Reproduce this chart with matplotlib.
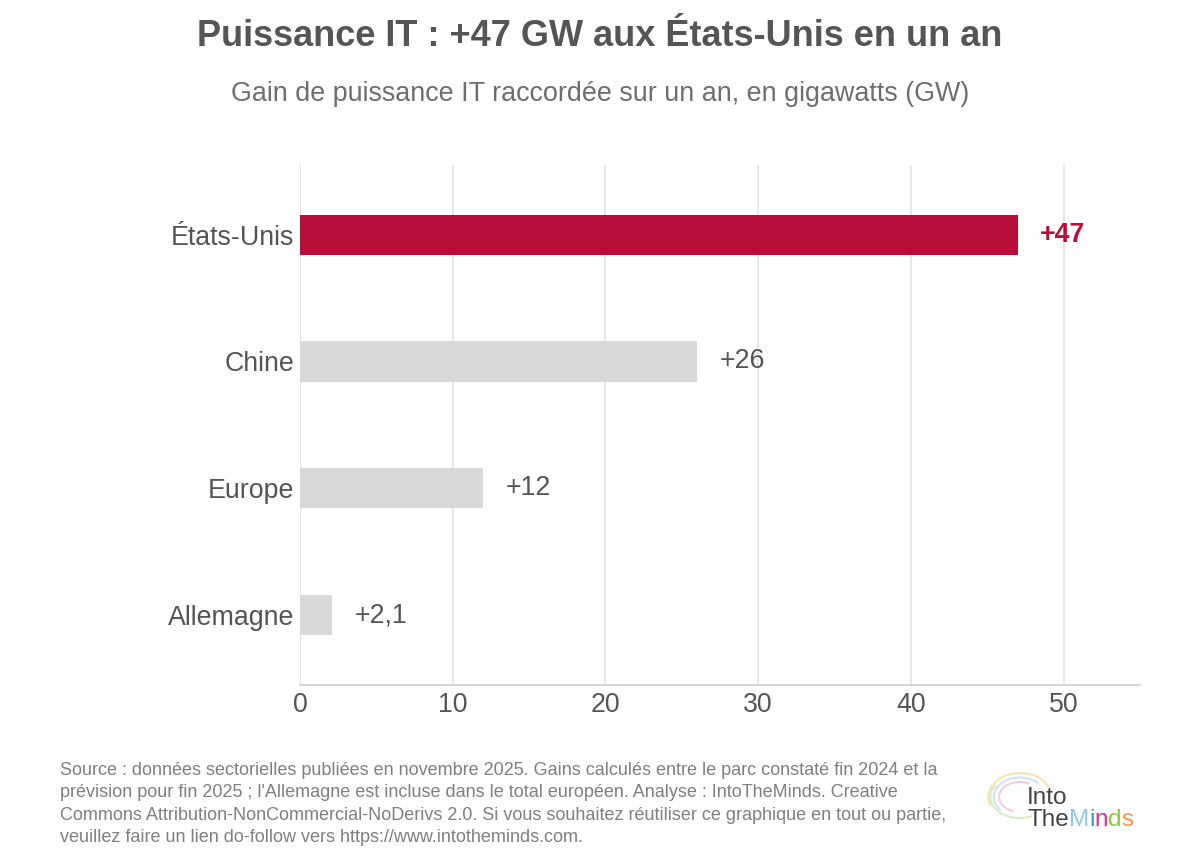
import matplotlib
matplotlib.use("Agg")
import matplotlib.pyplot as plt
from matplotlib.patches import Arc

plt.rcParams['font.family'] = ['Liberation Sans', 'DejaVu Sans']

categories = ["États-Unis", "Chine", "Europe", "Allemagne"]
values = [47, 26, 12, 2.1]
value_labels = ["+47", "+26", "+12", "+2,1"]
xticks = [0, 10, 20, 30, 40, 50]

title = "Puissance IT : +47 GW aux États-Unis en un an"
subtitle = "Gain de puissance IT raccordée sur un an, en gigawatts (GW)"
footer = ("Source : données sectorielles publiées en novembre 2025. Gains calculés entre le parc constaté fin 2024 et la\n"
          "prévision pour fin 2025 ; l'Allemagne est incluse dans le total européen. Analyse : IntoTheMinds. Creative\n"
          "Commons Attribution-NonCommercial-NoDerivs 2.0. Si vous souhaitez réutiliser ce graphique en tout ou partie,\n"
          "veuillez faire un lien do-follow vers https://www.intotheminds.com.")

RED = "#B80F3A"
GREY = "#D9D9D9"
TXT = "#555555"
FS = 19.3

fig = plt.figure(figsize=(12, 8.67), dpi=100)
ax = fig.add_axes([0.25, 0.2099, 0.70, 0.60])

ypos = list(range(len(categories)))
colors = [RED] + [GREY] * (len(categories) - 1)
ax.barh(ypos, values, height=0.316, color=colors, zorder=3)
ax.set_ylim(len(categories) - 0.45, -0.55)
ax.set_xlim(0, 55)
ax.set_yticks(ypos)
ax.set_yticklabels(categories, fontsize=FS, color=TXT)
ax.set_xticks(xticks)
ax.set_xticklabels([str(t) for t in xticks], fontsize=FS, color=TXT)
ax.tick_params(axis='both', length=0)
ax.tick_params(axis='y', pad=4)
ax.tick_params(axis='x', pad=5)
for s in ['top', 'right', 'left']:
    ax.spines[s].set_visible(False)
ax.spines['bottom'].set_color('#CCCCCC')
ax.spines['bottom'].set_linewidth(1.2)
ax.grid(axis='x', color='#E3E3E3', linewidth=1.2, zorder=0)
ax.axvline(0, color='#E3E3E3', linewidth=1.2, zorder=0)

for i, (v, lab) in enumerate(zip(values, value_labels)):
    if i == 0:
        ax.annotate(lab, (v, i), xytext=(16, 0), textcoords='offset points',
                    va='center', ha='left', fontsize=FS, color=RED, fontweight='bold')
    else:
        ax.annotate(lab, (v, i), xytext=(16, 0), textcoords='offset points',
                    va='center', ha='left', fontsize=FS, color=TXT)

fig.text(0.5, 1 - 37 / 867, title, ha='center', va='center', fontsize=26,
         fontweight='bold', color=TXT)
fig.text(0.5, 1 - 94 / 867, subtitle, ha='center', va='center', fontsize=19.4,
         color='#6E6E6E')
fig.text(60 / 1200, 1 - 762 / 867, footer, ha='left', va='top', fontsize=13,
         color='#808080', linespacing=1.42)

# logo
lx, ly = 1027 / 1200, 1 - 804 / 867
fig.text(lx, ly, "Into", ha='left', va='baseline', fontsize=17.5, color='#444444')
ly2 = 1 - 826 / 867
parts = [("The", '#444444'), ("M", '#8EC9E8'), ("i", '#3A8FD0'), ("n", '#D4338A'),
         ("d", '#8CC63F'), ("s", '#F2994A')]
renderer = fig.canvas.get_renderer()
x = lx
for t, c in parts:
    tx = fig.text(x, ly2, t, ha='left', va='baseline', fontsize=17.5, color=c)
    bb = tx.get_window_extent(renderer=renderer)
    x += bb.width / 1200
lax = fig.add_axes([985 / 1200, 1 - 830 / 867, 70 / 1200, 60 / 867])
lax.set_xlim(0, 1)
lax.set_ylim(0, 1)
lax.axis('off')
for (w, h, c, a1, a2) in [(0.9, 0.8, '#F5D98B', 20, 200), (0.75, 0.65, '#B9D8F0', 40, 220),
                          (0.6, 0.5, '#F3B7D3', 60, 250), (0.85, 0.7, '#CFE6B0', 150, 300)]:
    lax.add_patch(Arc((0.5, 0.55), w, h, theta1=a1, theta2=a2, color=c, lw=1.5, alpha=0.7))

fig.savefig("out.png", dpi=100, facecolor='white')
